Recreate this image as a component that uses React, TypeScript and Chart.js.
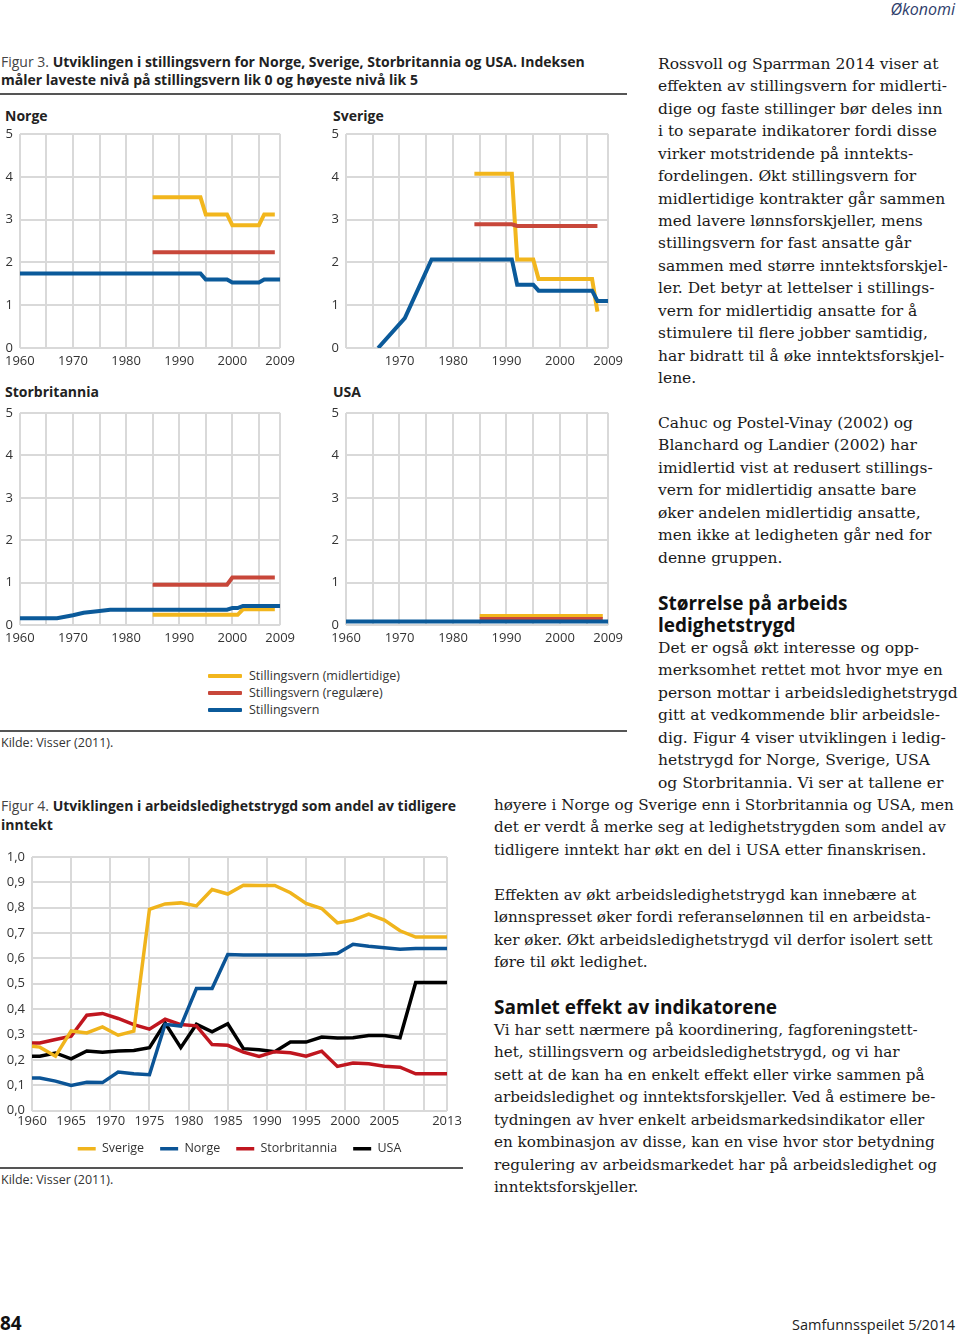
import React, { useEffect, useRef } from "react";
import { Chart, registerables } from "chart.js";

Chart.register(...registerables);

// ---------------- Figure 3 data (index 0 = lowest, 5 = highest) ----------------
const fig3XTicks = [1960, 1965, 1970, 1975, 1980, 1985, 1990, 1995, 2000, 2005, 2009];
const fig3XLabelsFull = [1960, 1970, 1980, 1990, 2000, 2009];
const fig3XLabelsSverige = [1970, 1980, 1990, 2000, 2009];
const fig3YTicks = [0, 1, 2, 3, 4, 5];
const fig3SeriesNames = ["Stillingsvern (midlertidige)", "Stillingsvern (regulære)", "Stillingsvern"];

const norgeMidlertidige = [[1985, 3.52], [1994, 3.52], [1995, 3.12], [1999, 3.12], [2000, 2.87], [2005, 2.87], [2006, 3.12], [2008, 3.12]];
const norgeRegulaere = [[1985, 2.24], [2008, 2.24]];
const norgeStillingsvern = [[1960, 1.74], [1994, 1.74], [1995, 1.6], [1999, 1.6], [2000, 1.53], [2005, 1.53], [2006, 1.6], [2009, 1.6]];

const sverigeMidlertidige = [[1984, 4.07], [1991, 4.07], [1992, 2.07], [1995, 2.07], [1996, 1.61], [2006, 1.61], [2007, 0.85]];
const sverigeRegulaere = [[1984, 2.89], [1991, 2.89], [1992, 2.85], [2007, 2.85]];
const sverigeStillingsvern = [[1966, 0], [1971, 0.7], [1976, 2.07], [1991, 2.07], [1992, 1.48], [1995, 1.48], [1996, 1.34], [2006, 1.34], [2007, 1.1], [2009, 1.1]];

const storbritanniaMidlertidige = [[1985, 0.24], [2001, 0.24], [2002, 0.37], [2008, 0.37]];
const storbritanniaRegulaere = [[1985, 0.95], [1999, 0.95], [2000, 1.12], [2008, 1.12]];
const storbritanniaStillingsvern = [[1960, 0.16], [1967, 0.16], [1970, 0.23], [1972, 0.29], [1975, 0.33], [1977, 0.36], [1999, 0.36], [2000, 0.4], [2001, 0.4], [2002, 0.45], [2009, 0.45]];

const usaMidlertidige = [[1985, 0.21], [2008, 0.21]];
const usaRegulaere = [[1985, 0.14], [2008, 0.14]];
const usaStillingsvern = [[1960, 0.08], [2009, 0.08]];

// ---------------- Figure 4 data (andel av tidligere inntekt) ----------------
const fig4Years = [1960, 1961, 1963, 1965, 1967, 1969, 1971, 1973, 1975, 1977, 1979, 1981, 1983, 1985, 1987, 1989, 1991, 1993, 1995, 1997, 1999, 2001, 2003, 2005, 2007, 2009, 2011, 2013];
const fig4Sverige = [0.253, 0.25, 0.214, 0.314, 0.306, 0.33, 0.297, 0.313, 0.794, 0.815, 0.819, 0.807, 0.872, 0.854, 0.889, 0.888, 0.888, 0.859, 0.817, 0.797, 0.74, 0.751, 0.775, 0.751, 0.709, 0.684, 0.684, 0.684];
const fig4Norge = [0.128, 0.128, 0.116, 0.099, 0.111, 0.11, 0.152, 0.145, 0.141, 0.34, 0.333, 0.481, 0.481, 0.615, 0.613, 0.613, 0.613, 0.613, 0.613, 0.615, 0.619, 0.656, 0.648, 0.642, 0.636, 0.639, 0.639, 0.639];
const fig4Storbritannia = [0.266, 0.266, 0.28, 0.293, 0.376, 0.383, 0.363, 0.339, 0.321, 0.36, 0.339, 0.334, 0.26, 0.257, 0.23, 0.213, 0.232, 0.228, 0.214, 0.234, 0.174, 0.187, 0.184, 0.175, 0.171, 0.145, 0.145, 0.145];
const fig4USA = [0.214, 0.214, 0.227, 0.204, 0.235, 0.23, 0.235, 0.237, 0.248, 0.345, 0.248, 0.34, 0.31, 0.342, 0.244, 0.24, 0.232, 0.27, 0.27, 0.29, 0.286, 0.287, 0.296, 0.296, 0.287, 0.505, 0.505, 0.505];
const fig4XTicks = [1960, 1965, 1970, 1975, 1980, 1985, 1990, 1995, 2000, 2005, 2010, 2013];
const fig4XLabels = [1960, 1965, 1970, 1975, 1980, 1985, 1990, 1995, 2000, 2005, 2013];
const fig4YTicks = [0, 1, 2, 3, 4, 5, 6, 7, 8, 9, 10].map((i) => i / 10);
const fig4SeriesNames = ["Sverige", "Norge", "Storbritannia", "USA"];

// ---------------- styles ----------------
const SANS = "'Open Sans', 'Noto Sans', sans-serif";
const SERIF = "'DejaVu Serif', serif";
const GRID = "#d9d9d9";
const TICK = "#333333";
const TICK_SIZE = 13;
const YELLOW3 = "#f2b61d";
const RED3 = "#c8473a";
const BLUE3 = "#0b5a9a";
const YELLOW4 = "#f0b41c";
const BLUE4 = "#0b5496";
const RED4 = "#c0161f";
const BLACK4 = "#000000";

const toXY = (pairs: number[][]) => pairs.map(([x, y]) => ({ x, y }));

function fig3Config(midl: number[][], reg: number[][], still: number[][], xLabels: number[], yWidth: number): any {
  const ds = (label: string, data: number[][], color: string) => ({
    label, data: toXY(data), borderColor: color, backgroundColor: color,
    borderWidth: 4, pointRadius: 0, tension: 0, fill: false, borderCapStyle: "butt",
  });
  return {
    type: "line",
    data: {
      datasets: [
        ds(fig3SeriesNames[2], still, BLUE3),
        ds(fig3SeriesNames[1], reg, RED3),
        ds(fig3SeriesNames[0], midl, YELLOW3),
      ],
    },
    options: {
      responsive: false,
      animation: false,
      layout: { padding: { top: 16, right: 18, left: 0, bottom: 0 } },
      plugins: { legend: { display: false }, tooltip: { enabled: false }, title: { display: false } },
      scales: {
        x: {
          type: "linear", min: 1960, max: 2009,
          afterBuildTicks: (axis: any) => { axis.ticks = fig3XTicks.map((v) => ({ value: v })); },
          afterFit: (axis: any) => { axis.height = 28; },
          grid: { color: GRID, lineWidth: 2, drawTicks: false },
          border: { display: false },
          ticks: {
            autoSkip: false, maxRotation: 0, padding: 5, color: TICK,
            font: { family: SANS, size: TICK_SIZE, lineHeight: 1.2 },
            callback: (v: any) => (xLabels.includes(v) ? String(v) : ""),
          },
        },
        y: {
          type: "linear", min: 0, max: 5,
          afterBuildTicks: (axis: any) => { axis.ticks = fig3YTicks.map((v) => ({ value: v })); },
          afterFit: (axis: any) => { axis.width = yWidth; },
          grid: { color: GRID, lineWidth: 2, drawTicks: false },
          border: { display: false },
          ticks: {
            padding: 7, color: TICK, font: { family: SANS, size: TICK_SIZE, lineHeight: 1.2 },
            callback: (v: any) => String(v),
          },
        },
      },
    },
  };
}

function fig4Config(): any {
  const ds = (label: string, vals: number[], color: string) => ({
    label, data: fig4Years.map((yr, i) => ({ x: yr, y: vals[i] })),
    borderColor: color, backgroundColor: color, borderWidth: 3.5, pointRadius: 0,
    pointStyle: "line", tension: 0, fill: false, borderJoinStyle: "miter",
  });
  return {
    type: "line",
    data: {
      datasets: [
        ds(fig4SeriesNames[0], fig4Sverige, YELLOW4),
        ds(fig4SeriesNames[1], fig4Norge, BLUE4),
        ds(fig4SeriesNames[2], fig4Storbritannia, RED4),
        ds(fig4SeriesNames[3], fig4USA, BLACK4),
      ],
    },
    options: {
      responsive: false,
      animation: false,
      layout: { padding: { top: 16, right: 18, left: 0, bottom: 0 } },
      plugins: {
        tooltip: { enabled: false },
        legend: {
          display: true, position: "bottom", fullSize: false,
          labels: {
            usePointStyle: true, pointStyle: "line", pointStyleWidth: 18, padding: 16,
            color: TICK, font: { family: SANS, size: 12.5 },
          },
        },
      },
      scales: {
        x: {
          type: "linear", min: 1960, max: 2013,
          afterBuildTicks: (axis: any) => { axis.ticks = fig4XTicks.map((v) => ({ value: v })); },
          afterFit: (axis: any) => { axis.height = 16; },
          grid: { color: GRID, lineWidth: 2, drawTicks: false },
          border: { display: false },
          ticks: {
            autoSkip: false, maxRotation: 0, padding: 3, color: TICK,
            font: { family: SANS, size: TICK_SIZE, lineHeight: 1.2 },
            callback: (v: any) => (fig4XLabels.includes(v) ? String(v) : ""),
          },
        },
        y: {
          type: "linear", min: 0, max: 1,
          afterBuildTicks: (axis: any) => { axis.ticks = fig4YTicks.map((v) => ({ value: v })); },
          afterFit: (axis: any) => { axis.width = 32; },
          grid: { color: GRID, lineWidth: 2, drawTicks: false },
          border: { display: false },
          ticks: {
            padding: 7, color: TICK, font: { family: SANS, size: TICK_SIZE, lineHeight: 1.2 },
            callback: (v: any) => Number(v).toFixed(1).replace(".", ","),
          },
        },
      },
    },
  };
}

function ChartCanvas({ left, top, width, height, makeConfig }: any) {
  const ref = useRef<HTMLCanvasElement>(null);
  useEffect(() => {
    const chart = new Chart(ref.current as HTMLCanvasElement, makeConfig());
    return () => chart.destroy();
  }, []);
  return (
    <canvas
      ref={ref}
      width={width}
      height={height}
      style={{ position: "absolute", left, top, width, height }}
    />
  );
}

function Txt({ x, cy, size, family = SANS, bold = false, italic = false, color = "#222", children, right = false }: any) {
  const lh = Math.round(size * 1.3);
  const style: any = {
    position: "absolute",
    top: cy - lh / 2,
    fontSize: size,
    lineHeight: lh + "px",
    fontFamily: family,
    fontWeight: bold ? 700 : 400,
    fontStyle: italic ? "italic" : "normal",
    color,
    whiteSpace: "nowrap",
  };
  if (right) {
    style.right = 960 - x;
    style.textAlign = "right";
  } else {
    style.left = x;
  }
  return <div style={style}>{children}</div>;
}

function Rule({ x, y, w }: any) {
  return <div style={{ position: "absolute", left: x, top: y - 0.75, width: w, height: 1.5, background: "#555" }} />;
}

function LegendSwatch({ x, cy, w, color }: any) {
  return <div style={{ position: "absolute", left: x, top: cy - 2, width: w, height: 4, background: color, borderRadius: 1 }} />;
}

const STEP = 22.43;
const BODY_NARROW = 15.5;
const BODY_WIDE = 15.2;

const p1 = [
  "Rossvoll og Sparrman 2014 viser at",
  "effekten av stillingsvern for midlerti-",
  "dige og faste stillinger bør deles inn",
  "i to separate indikatorer fordi disse",
  "virker motstridende på inntekts-",
  "fordelingen. Økt stillingsvern for",
  "midlertidige kontrakter går sammen",
  "med lavere lønnsforskjeller, mens",
  "stillingsvern for fast ansatte går",
  "sammen med større inntektsforskjel-",
  "ler. Det betyr at lettelser i stillings-",
  "vern for midlertidig ansatte for å",
  "stimulere til flere jobber samtidig,",
  "har bidratt til å øke inntektsforskjel-",
  "lene.",
];
const p2 = [
  "Cahuc og Postel-Vinay (2002) og",
  "Blanchard og Landier (2002) har",
  "imidlertid vist at redusert stillings-",
  "vern for midlertidig ansatte bare",
  "øker andelen midlertidig ansatte,",
  "men ikke at ledigheten går ned for",
  "denne gruppen.",
];
const p3narrow = [
  "Det er også økt interesse og opp-",
  "merksomhet rettet mot hvor mye en",
  "person mottar i arbeidsledighetstrygd",
  "gitt at vedkommende blir arbeidsle-",
  "dig. Figur 4 viser utviklingen i ledig-",
  "hetstrygd for Norge, Sverige, USA",
  "og Storbritannia. Vi ser at tallene er",
];
const p3wide = [
  "høyere i Norge og Sverige enn i Storbritannia og USA, men",
  "det er verdt å merke seg at ledighetstrygden som andel av",
  "tidligere inntekt har økt en del i USA etter finanskrisen.",
];
const p4 = [
  "Effekten av økt arbeidsledighetstrygd kan innebære at",
  "lønnspresset øker fordi referanselønnen til en arbeidsta-",
  "ker øker. Økt arbeidsledighetstrygd vil derfor isolert sett",
  "føre til økt ledighet.",
];
const p5 = [
  "Vi har sett nærmere på koordinering, fagforeningstett-",
  "het, stillingsvern og arbeidsledighetstrygd, og vi har",
  "sett at de kan ha en enkelt effekt eller virke sammen på",
  "arbeidsledighet og inntektsforskjeller. Ved å estimere be-",
  "tydningen av hver enkelt arbeidsmarkedsindikator eller",
  "en kombinasjon av disse, kan en vise hvor stor betydning",
  "regulering av arbeidsmarkedet har på arbeidsledighet og",
  "inntektsforskjeller.",
];

function Para({ lines, x, cy0, size }: any) {
  return (
    <>
      {lines.map((t: string, i: number) => (
        <Txt key={i} x={x} cy={cy0 + i * STEP} size={size} family={SERIF} color="#1a1a1a">{t}</Txt>
      ))}
    </>
  );
}

export default function App() {
  return (
    <div style={{ position: "absolute", left: 0, top: 0, width: 960, height: 1334, overflow: "hidden", background: "#fff" }}>
      {/* header */}
      <Txt x={955} cy={9} size={16} italic right color="#2e3d6b">Økonomi</Txt>

      {/* Figure 3 caption */}
      <Txt x={1} cy={62} size={14} color="#222">
        <span style={{ color: "#444" }}>Figur 3. </span>
        <b>Utviklingen i stillingsvern for Norge, Sverige, Storbritannia og USA. Indeksen</b>
      </Txt>
      <Txt x={1} cy={80} size={14} bold color="#222">måler laveste nivå på stillingsvern lik 0 og høyeste nivå lik 5</Txt>
      <Rule x={0} y={94} w={627} />

      <Txt x={5} cy={116} size={14} bold color="#222">Norge</Txt>
      <Txt x={333} cy={116} size={14} bold color="#222">Sverige</Txt>
      <Txt x={5} cy={392} size={14} bold color="#222">Storbritannia</Txt>
      <Txt x={333} cy={392} size={14} bold color="#222">USA</Txt>

      <ChartCanvas left={0} top={118} width={300} height={258}
        makeConfig={() => fig3Config(norgeMidlertidige, norgeRegulaere, norgeStillingsvern, fig3XLabelsFull, 19)} />
      <ChartCanvas left={320} top={118} width={308} height={258}
        makeConfig={() => fig3Config(sverigeMidlertidige, sverigeRegulaere, sverigeStillingsvern, fig3XLabelsSverige, 26)} />
      <ChartCanvas left={0} top={397} width={300} height={256}
        makeConfig={() => fig3Config(storbritanniaMidlertidige, storbritanniaRegulaere, storbritanniaStillingsvern, fig3XLabelsFull, 19)} />
      <ChartCanvas left={320} top={397} width={308} height={256}
        makeConfig={() => fig3Config(usaMidlertidige, usaRegulaere, usaStillingsvern, fig3XLabelsFull, 26)} />

      {/* Figure 3 legend */}
      <LegendSwatch x={208} cy={676} w={34} color={YELLOW3} />
      <LegendSwatch x={208} cy={693} w={34} color={RED3} />
      <LegendSwatch x={208} cy={710} w={34} color={BLUE3} />
      <Txt x={249} cy={676} size={12.5} color="#333">{fig3SeriesNames[0]}</Txt>
      <Txt x={249} cy={693} size={12.5} color="#333">{fig3SeriesNames[1]}</Txt>
      <Txt x={249} cy={710} size={12.5} color="#333">{fig3SeriesNames[2]}</Txt>
      <Rule x={0} y={731} w={627} />
      <Txt x={1} cy={743} size={12.5} color="#333">Kilde: Visser (2011).</Txt>

      {/* Figure 4 */}
      <Txt x={1} cy={806} size={14} color="#222">
        <span style={{ color: "#444" }}>Figur 4. </span>
        <b>Utviklingen i arbeidsledighetstrygd som andel av tidligere</b>
      </Txt>
      <Txt x={1} cy={825} size={14} bold color="#222">inntekt</Txt>
      <ChartCanvas left={0} top={841} width={465} height={324} makeConfig={fig4Config} />
      <Rule x={0} y={1168} w={463} />
      <Txt x={1} cy={1180} size={12.5} color="#333">Kilde: Visser (2011).</Txt>

      {/* right column text */}
      <Para lines={p1} x={658} cy0={64} size={BODY_NARROW} />
      <Para lines={p2} x={658} cy0={423} size={BODY_NARROW} />
      <Txt x={658} cy={603} size={19} bold color="#111">Størrelse på arbeids</Txt>
      <Txt x={658} cy={625} size={19} bold color="#111">ledighetstrygd</Txt>
      <Para lines={p3narrow} x={658} cy0={648} size={BODY_NARROW} />
      <Para lines={p3wide} x={494} cy0={648 + 7 * STEP} size={BODY_WIDE} />
      <Para lines={p4} x={494} cy0={895} size={BODY_WIDE} />
      <Txt x={494} cy={1007} size={19} bold color="#111">Samlet effekt av indikatorene</Txt>
      <Para lines={p5} x={494} cy0={1030} size={BODY_WIDE} />

      {/* footer */}
      <Txt x={0} cy={1323} size={19} bold color="#111">84</Txt>
      <Txt x={955} cy={1324} size={14.5} right color="#222">Samfunnsspeilet 5/2014</Txt>
    </div>
  );
}
